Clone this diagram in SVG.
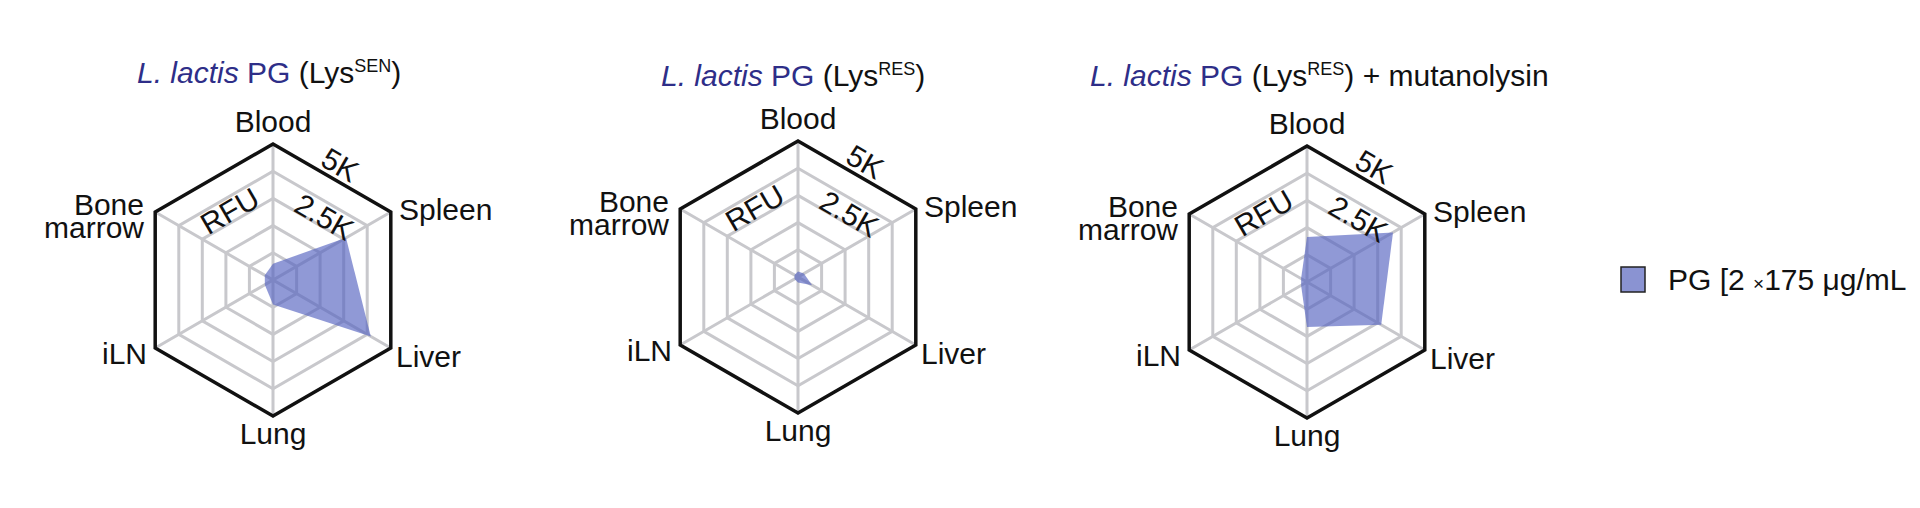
<svg xmlns="http://www.w3.org/2000/svg" xmlns:xlink="http://www.w3.org/1999/xlink" width="1920" height="508" viewBox="0 0 1920 508">
<style>
text{font-family:"Liberation Sans",Arial,sans-serif;font-size:30px;fill:#111}
.t{fill:#2e2e88}
.g{fill:none;stroke:#c8c8cc;stroke-width:3}
.o{fill:none;stroke:#111;stroke-width:3.5;stroke-linejoin:miter}
.d{fill:#5563c0;fill-opacity:0.65;stroke:none}
.m{text-anchor:middle}.e{text-anchor:end}
.sup{font-size:18px}
</style>
<defs>
<g id="grid">
<polygon class="g" points="0,-27.2 23.6,-13.6 23.6,13.6 0,27.2 -23.6,13.6 -23.6,-13.6"/>
<polygon class="g" points="0,-54.4 47.1,-27.2 47.1,27.2 0,54.4 -47.1,27.2 -47.1,-27.2"/>
<polygon class="g" points="0,-81.6 70.7,-40.8 70.7,40.8 0,81.6 -70.7,40.8 -70.7,-40.8"/>
<polygon class="g" points="0,-108.8 94.2,-54.4 94.2,54.4 0,108.8 -94.2,54.4 -94.2,-54.4"/>
<path class="g" d="M0,-136V136M-117.8,-68L117.8,68M-117.8,68L117.8,-68"/>
</g>
<g id="lab">
<text class="m" x="0" y="-148">Blood</text>
<text x="126" y="-60">Spleen</text>
<text x="123" y="87">Liver</text>
<text class="m" x="0" y="164">Lung</text>
<text class="e" x="-126" y="84">iLN</text>
<text class="e" x="-129" y="-65">Bone</text>
<text class="e" x="-129" y="-42">marrow</text>
<text class="m" transform="translate(62,-106) rotate(30)">5K</text>
<text class="m" transform="translate(46,-54) rotate(30)">2.5K</text>
<text class="m" transform="translate(-38,-60) rotate(-30)">RFU</text>
</g>
<polygon id="outer" class="o" points="0,-136 117.8,-68 117.8,68 0,136 -117.8,68 -117.8,-68"/>
</defs>
<rect width="1920" height="508" fill="#fff"/>
<g id="chart1" transform="translate(273,280)">
<use xlink:href="#grid"/>
<polygon class="d" points="0,-16.3 73,-42.2 97.8,56.4 0,24.5 -8.2,4.8 -8.2,-4.8"/>
<use xlink:href="#outer"/>
<use xlink:href="#lab"/>
</g>
<g id="chart2" transform="translate(798,277)">
<use xlink:href="#grid"/>
<polygon class="d" points="0,-5.4 5.9,-3.4 14.1,8.2 0,5.4 -3.5,2 -3.5,-2"/>
<use xlink:href="#outer"/>
<use xlink:href="#lab"/>
</g>
<g id="chart3" transform="translate(1307,282)">
<use xlink:href="#grid"/>
<polygon class="d" points="0,-44.9 86,-49.6 74.2,42.8 0,44.9 -5.9,3.4 -5.9,-3.4"/>
<use xlink:href="#outer"/>
<use xlink:href="#lab"/>
</g>
<g id="titles">
<text x="137" y="83"><tspan class="t" font-style="italic">L. lactis</tspan><tspan class="t"> PG</tspan> (Lys<tspan class="sup" dy="-11">SEN</tspan><tspan dy="11">)</tspan></text>
<text x="661" y="86"><tspan class="t" font-style="italic">L. lactis</tspan><tspan class="t"> PG</tspan> (Lys<tspan class="sup" dy="-11">RES</tspan><tspan dy="11">)</tspan></text>
<text x="1090" y="86"><tspan class="t" font-style="italic">L. lactis</tspan><tspan class="t"> PG</tspan> (Lys<tspan class="sup" dy="-11">RES</tspan><tspan dy="11">) + mutanolysin</tspan></text>
</g>
<g id="legend">
<rect x="1621" y="267" width="24" height="25" fill="#8a93d2" stroke="#222" stroke-width="1.5"/>
<text x="1668" y="290">PG [2 <tspan font-size="19px">×</tspan>175 μg/mL</text>
</g>
</svg>
